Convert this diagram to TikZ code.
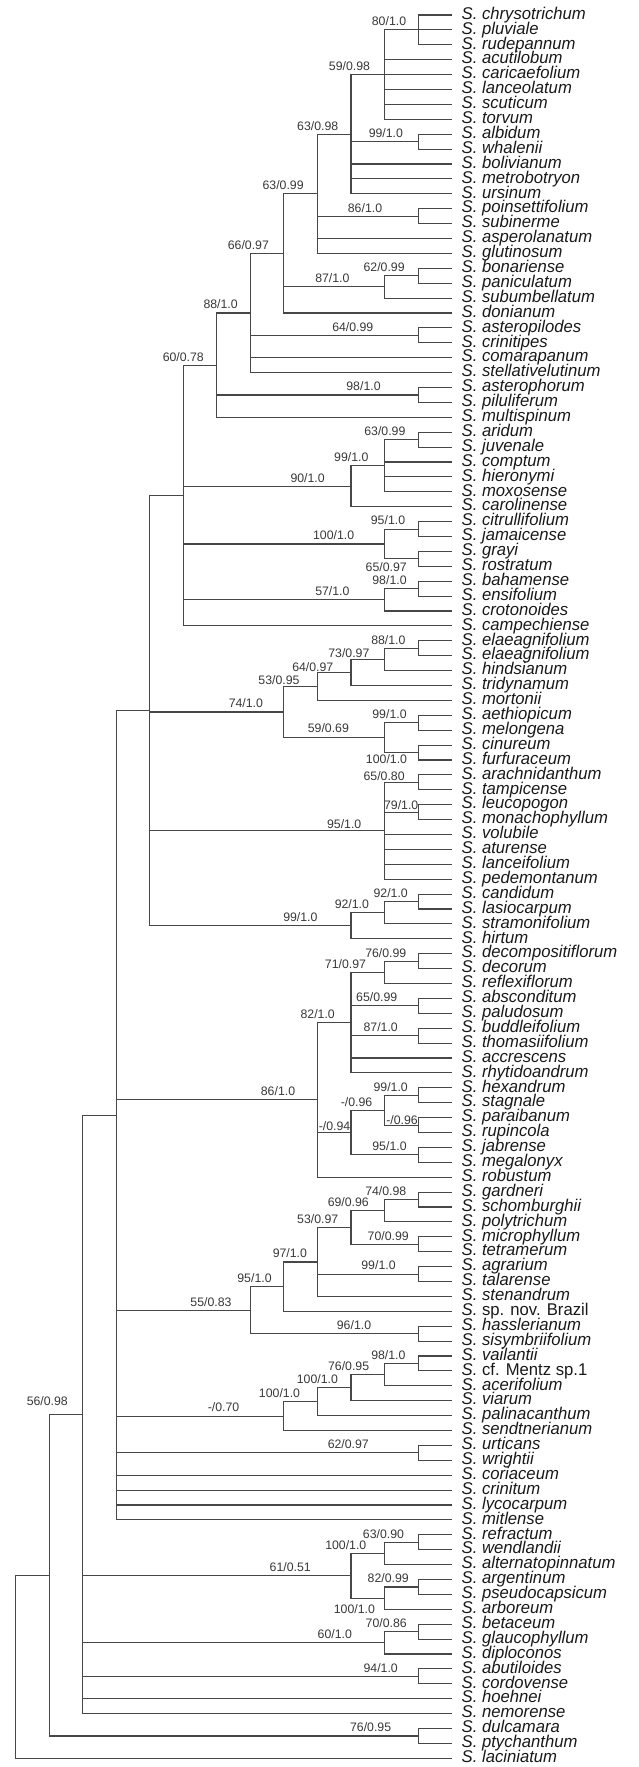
\documentclass[tikz,border=0pt]{standalone}
\usepackage{fontspec}
\usetikzlibrary{calc}
\newfontfamily\leaffont{Liberation Sans}[FakeStretch=0.98]
\newfontfamily\supfont{Liberation Sans}
\tikzset{
 br/.style={draw=black!72, line width=1.1pt, line cap=rect},
 leaf/.style={anchor=base west, inner sep=0pt, text=black!90, font=\leaffont\fontsize{17}{17}\selectfont},
 sup/.style={anchor=base, inner sep=0pt, text=black!78, font=\supfont\fontsize{12.3}{12.3}\selectfont},
}
\newcommand\Sl[1]{\textit{S. #1}}
\newcommand\lf[2]{%
 \coordinate (t#1) at (451.7,{15+(#1-1)*14.9});
 \node[leaf] (tx#1) at (461.5,{15+(#1-1)*14.9+4.2}) {#2};}
\newcommand\clade[3]{%
 \foreach \cc [count=\ii] in {#3}{\ifnum\ii=1 \xdef\cfirst{\cc}\fi \xdef\clast{\cc}}%
 \coordinate (#1m) at ($(\cfirst)!0.5!(\clast)$);
 \coordinate (#1) at (#1m -| X#2);
 \draw[br] (#1 |- \cfirst) -- (#1 |- \clast);
 \foreach \cc in {#3}{\draw[br] (#1 |- \cc) -- (\cc);}%
}
\newcommand\slab[4][8.5]{\node[sup, yshift={#1-4.4}] (s#2) at (#3,0 |- #2) {#4};}
\begin{document}
\begin{tikzpicture}[x=1pt,y=-1pt]
\useasboundingbox (0,0) rectangle (639,1767);
\foreach \k in {0,...,12} {\coordinate (X\k) at ({15.5+33.55*\k},0);}
% leaves
\lf{1}{\Sl{chrysotrichum}}
\lf{2}{\Sl{pluviale}}
\lf{3}{\Sl{rudepannum}}
\lf{4}{\Sl{acutilobum}}
\lf{5}{\Sl{caricaefolium}}
\lf{6}{\Sl{lanceolatum}}
\lf{7}{\Sl{scuticum}}
\lf{8}{\Sl{torvum}}
\lf{9}{\Sl{albidum}}
\lf{10}{\Sl{whalenii}}
\lf{11}{\Sl{bolivianum}}
\lf{12}{\Sl{metrobotryon}}
\lf{13}{\Sl{ursinum}}
\lf{14}{\Sl{poinsettifolium}}
\lf{15}{\Sl{subinerme}}
\lf{16}{\Sl{asperolanatum}}
\lf{17}{\Sl{glutinosum}}
\lf{18}{\Sl{bonariense}}
\lf{19}{\Sl{paniculatum}}
\lf{20}{\Sl{subumbellatum}}
\lf{21}{\Sl{donianum}}
\lf{22}{\Sl{asteropilodes}}
\lf{23}{\Sl{crinitipes}}
\lf{24}{\Sl{comarapanum}}
\lf{25}{\Sl{stellativelutinum}}
\lf{26}{\Sl{asterophorum}}
\lf{27}{\Sl{piluliferum}}
\lf{28}{\Sl{multispinum}}
\lf{29}{\Sl{aridum}}
\lf{30}{\Sl{juvenale}}
\lf{31}{\Sl{comptum}}
\lf{32}{\Sl{hieronymi}}
\lf{33}{\Sl{moxosense}}
\lf{34}{\Sl{carolinense}}
\lf{35}{\Sl{citrullifolium}}
\lf{36}{\Sl{jamaicense}}
\lf{37}{\Sl{grayi}}
\lf{38}{\Sl{rostratum}}
\lf{39}{\Sl{bahamense}}
\lf{40}{\Sl{ensifolium}}
\lf{41}{\Sl{crotonoides}}
\lf{42}{\Sl{campechiense}}
\lf{43}{\Sl{elaeagnifolium}}
\lf{44}{\Sl{elaeagnifolium}}
\lf{45}{\Sl{hindsianum}}
\lf{46}{\Sl{tridynamum}}
\lf{47}{\Sl{mortonii}}
\lf{48}{\Sl{aethiopicum}}
\lf{49}{\Sl{melongena}}
\lf{50}{\Sl{cinureum}}
\lf{51}{\Sl{furfuraceum}}
\lf{52}{\Sl{arachnidanthum}}
\lf{53}{\Sl{tampicense}}
\lf{54}{\Sl{leucopogon}}
\lf{55}{\Sl{monachophyllum}}
\lf{56}{\Sl{volubile}}
\lf{57}{\Sl{aturense}}
\lf{58}{\Sl{lanceifolium}}
\lf{59}{\Sl{pedemontanum}}
\lf{60}{\Sl{candidum}}
\lf{61}{\Sl{lasiocarpum}}
\lf{62}{\Sl{stramonifolium}}
\lf{63}{\Sl{hirtum}}
\lf{64}{\Sl{decompositiflorum}}
\lf{65}{\Sl{decorum}}
\lf{66}{\Sl{reflexiflorum}}
\lf{67}{\Sl{absconditum}}
\lf{68}{\Sl{paludosum}}
\lf{69}{\Sl{buddleifolium}}
\lf{70}{\Sl{thomasiifolium}}
\lf{71}{\Sl{accrescens}}
\lf{72}{\Sl{rhytidoandrum}}
\lf{73}{\Sl{hexandrum}}
\lf{74}{\Sl{stagnale}}
\lf{75}{\Sl{paraibanum}}
\lf{76}{\Sl{rupincola}}
\lf{77}{\Sl{jabrense}}
\lf{78}{\Sl{megalonyx}}
\lf{79}{\Sl{robustum}}
\lf{80}{\Sl{gardneri}}
\lf{81}{\Sl{schomburghii}}
\lf{82}{\Sl{polytrichum}}
\lf{83}{\Sl{microphyllum}}
\lf{84}{\Sl{tetramerum}}
\lf{85}{\Sl{agrarium}}
\lf{86}{\Sl{talarense}}
\lf{87}{\Sl{stenandrum}}
\lf{88}{\textit{S.} sp. nov. Brazil}
\lf{89}{\Sl{hasslerianum}}
\lf{90}{\Sl{sisymbriifolium}}
\lf{91}{\Sl{vailantii}}
\lf{92}{\textit{S.} cf. Mentz sp.1}
\lf{93}{\Sl{acerifolium}}
\lf{94}{\Sl{viarum}}
\lf{95}{\Sl{palinacanthum}}
\lf{96}{\Sl{sendtnerianum}}
\lf{97}{\Sl{urticans}}
\lf{98}{\Sl{wrightii}}
\lf{99}{\Sl{coriaceum}}
\lf{100}{\Sl{crinitum}}
\lf{101}{\Sl{lycocarpum}}
\lf{102}{\Sl{mitlense}}
\lf{103}{\Sl{refractum}}
\lf{104}{\Sl{wendlandii}}
\lf{105}{\Sl{alternatopinnatum}}
\lf{106}{\Sl{argentinum}}
\lf{107}{\Sl{pseudocapsicum}}
\lf{108}{\Sl{arboreum}}
\lf{109}{\Sl{betaceum}}
\lf{110}{\Sl{glaucophyllum}}
\lf{111}{\Sl{diploconos}}
\lf{112}{\Sl{abutiloides}}
\lf{113}{\Sl{cordovense}}
\lf{114}{\Sl{hoehnei}}
\lf{115}{\Sl{nemorense}}
\lf{116}{\Sl{dulcamara}}
\lf{117}{\Sl{ptychanthum}}
\lf{118}{\Sl{laciniatum}}
% clades
\clade{a1}{12}{t1,t2,t3}           \slab{a1}{389.0}{80/1.0}
\clade{a2}{11}{a1,t4,t5,t6,t7,t8}  \slab{a2}{349.5}{59/0.98}
\clade{a3}{12}{t9,t10}             \slab{a3}{385.9}{99/1.0}
\clade{a4}{10}{a2,a3,t11,t12,t13}  \slab{a4}{317.7}{63/0.98}
\clade{a5}{12}{t14,t15}            \slab{a5}{365.0}{86/1.0}
\clade{a6}{9}{a4,a5,t16,t17}       \slab{a6}{283.1}{63/0.99}
\clade{a7}{12}{t18,t19}            \slab{a7}{384.1}{62/0.99}
\clade{a8}{11}{a7,t20}             \slab{a8}{332.4}{87/1.0}
\clade{a9}{8}{a6,a8,t21}           \slab{a9}{248.4}{66/0.97}
\clade{a10}{12}{t22,t23}           \slab{a10}{352.8}{64/0.99}
\clade{a11}{7}{a9,a10,t24,t25}     \slab{a11}{220.6}{88/1.0}
\clade{a12}{12}{t26,t27}           \slab{a12}{363.5}{98/1.0}
\clade{a13}{6}{a11,a12,t28}        \slab{a13}{183.3}{60/0.78}
\clade{b1}{12}{t29,t30}            \slab{b1}{384.9}{63/0.99}
\clade{b2}{11}{b1,t31,t32,t33}     \slab{b2}{351.3}{99/1.0}
\clade{b3}{10}{b2,t34}             \slab{b3}{307.6}{90/1.0}
\clade{b4}{12}{t35,t36}            \slab{b4}{388.0}{95/1.0}
\clade{b5}{12}{t37,t38}            \slab[-7.8]{b5}{386.2}{65/0.97}
\clade{b6}{11}{b4,b5}              \slab{b6}{333.6}{100/1.0}
\clade{b7}{12}{t39,t40}            \slab{b7}{389.5}{98/1.0}
\clade{b8}{11}{b7,t41}             \slab{b8}{332.4}{57/1.0}
\clade{b9}{5}{a13,b3,b6,b8,t42}
\clade{c1}{12}{t43,t44}            \slab{c1}{388.4}{88/1.0}
\clade{c2}{11}{c1,t45}             \slab[6.5]{c2}{348.9}{73/0.97}
\clade{c3}{10}{c2,t46}             \slab[5.5]{c3}{312.8}{64/0.97}
\clade{c4}{9}{c3,t47}              \slab[6.5]{c4}{279.0}{53/0.95}
\clade{c5}{12}{t48,t49}            \slab{c5}{389.5}{99/1.0}
\clade{c6}{12}{t50,t51}            \slab[-6.7]{c6}{386.5}{100/1.0}
\clade{c7}{11}{c5,c6}              \slab[10]{c7}{328.4}{59/0.69}
\clade{c8}{8}{c4,c7}               \slab{c8}{245.9}{74/1.0}
\clade{d1}{12}{t52,t53}            \slab[6.5]{d1}{384.1}{65/0.80}
\clade{d2}{12}{t54,t55}            \slab[7]{d2}{401.2}{79/1.0}
\clade{d3}{11}{d1,d2,t56,t57,t58,t59} \slab[7]{d3}{344.2}{95/1.0}
\clade{e1}{12}{t60,t61}            \slab{e1}{390.7}{92/1.0}
\clade{e2}{11}{e1,t62}             \slab{e2}{351.9}{92/1.0}
\clade{e3}{10}{e2,t63}             \slab{e3}{300.4}{99/1.0}
\clade{f0}{4}{b9,c8,d3,e3}
\clade{g1}{12}{t64,t65}            \slab{g1}{385.8}{76/0.99}
\clade{g2}{11}{g1,t66}             \slab{g2}{345.5}{71/0.97}
\clade{g3}{12}{t67,t68}            \slab{g3}{376.7}{65/0.99}
\clade{g4}{12}{t69,t70}            \slab{g4}{380.7}{87/1.0}
\clade{g5}{10}{g2,g3,g4,t71,t72}   \slab{g5}{317.7}{82/1.0}
\clade{g6}{12}{t73,t74}            \slab{g6}{390.7}{99/1.0}
\clade{g7}{12}{t75,t76}            \slab[5]{g7}{402.0}{-/0.96}
\clade{g8}{11}{g6,g7}              \slab{g8}{356.5}{-/0.96}
\clade{g9}{12}{t77,t78}            \slab{g9}{389.5}{95/1.0}
\clade{g10}{10}{g8,g9}             \slab[6.5]{g10}{334.5}{-/0.94}
\clade{g11}{9}{g5,g10,t79}         \slab{g11}{278.0}{86/1.0}
\clade{h1}{12}{t80,t81}            \slab{h1}{385.8}{74/0.98}
\clade{h2}{11}{h1,t82}             \slab{h2}{348.3}{69/0.96}
\clade{h3}{12}{t83,t84}            \slab{h3}{388.2}{70/0.99}
\clade{h4}{10}{h2,h3}              \slab{h4}{317.7}{53/0.97}
\clade{h5}{12}{t85,t86}            \slab{h5}{378.5}{99/1.0}
\clade{h6}{9}{h4,h5,t87}           \slab{h6}{289.9}{97/1.0}
\clade{h7}{8}{h6,t88}              \slab{h7}{254.5}{95/1.0}
\clade{h8}{12}{t89,t90}            \slab{h8}{354.0}{96/1.0}
\clade{h9}{7}{h7,h8}               \slab{h9}{211.0}{55/0.83}
\clade{i1}{12}{t91,t92}            \slab{i1}{388.4}{98/1.0}
\clade{i2}{11}{i1,t93}             \slab{i2}{348.6}{76/0.95}
\clade{i3}{10}{i2,t94}             \slab{i3}{317.4}{100/1.0}
\clade{i4}{9}{i3,t95}              \slab{i4}{279.5}{100/1.0}
\clade{i5}{8}{i4,t96}              \slab{i5}{223.6}{-/0.70}
\clade{i6}{12}{t97,t98}            \slab{i6}{348.3}{62/0.97}
\clade{j0}{3}{f0,g11,h9,i5,i6,t99,t100,t101,t102}
\clade{k1}{12}{t103,t104}          \slab{k1}{383.5}{63/0.90}
\clade{k2}{11}{k1,t105}            \slab{k2}{345.8}{100/1.0}
\clade{k3}{12}{t106,t107}          \slab{k3}{388.2}{82/0.99}
\clade{k4}{11}{k3,t108}            \slab[-11]{k4}{354.4}{100/1.0}
\clade{k5}{10}{k2,k4}              \slab{k5}{290.2}{61/0.51}
\clade{k6}{12}{t109,t110}          \slab{k6}{386.2}{70/0.86}
\clade{k7}{11}{k6,t111}            \slab{k7}{334.8}{60/1.0}
\clade{k8}{12}{t112,t113}          \slab{k8}{380.7}{94/1.0}
\clade{m1}{2}{j0,k5,k7,k8,t114,t115} \slab[13]{m1}{47.3}{56/0.98}
\clade{m2}{12}{t116,t117}          \slab{m2}{370.6}{76/0.95}
\clade{m3}{1}{m1,m2}
\clade{r0}{0}{m3,t118}
\end{tikzpicture}
\end{document}
